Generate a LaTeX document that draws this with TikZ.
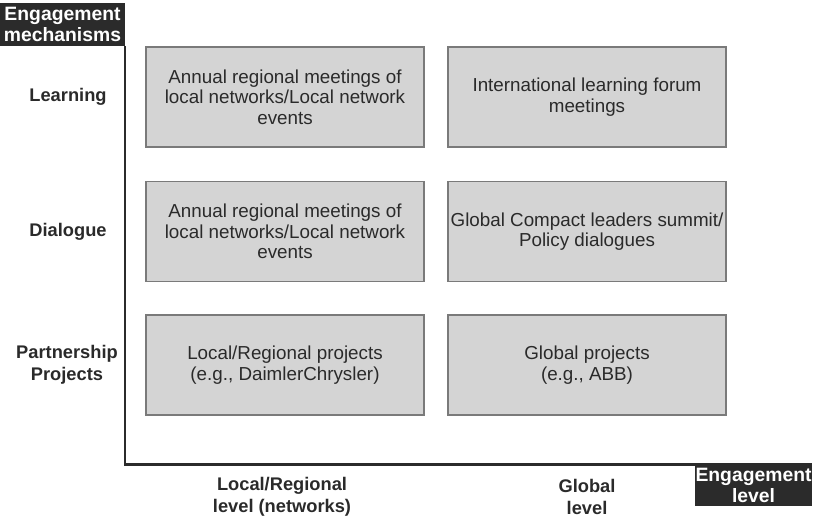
\documentclass[tikz,border=0pt]{standalone}
\usepackage{fontspec}
\setmainfont{Liberation Sans}
\usetikzlibrary{shapes}

\definecolor{tagdark}{HTML}{2B2B2B}
\definecolor{cellfill}{HTML}{D4D4D4}
\definecolor{celledge}{HTML}{7A7A7A}
\definecolor{inkgray}{HTML}{2A2A2A}

\tikzset{
	cell/.style={rectangle, draw=celledge, fill=cellfill, thick, inner xsep=1pt, minimum width=5.56cm, minimum height=2cm, align=center, text=inkgray, font=\fontsize{10.7}{11.6}\selectfont},
	tag/.style={rectangle, fill=tagdark, text=white, align=center, inner sep=0pt, font=\fontsize{11}{12}\selectfont\bfseries},
	rowlabel/.style={align=center, text=inkgray, font=\fontsize{10.4}{12.5}\selectfont\bfseries}
}

\begin{document}
\begin{tikzpicture}
		\useasboundingbox (0, 0) rectangle (16.38, -10.38);
		% axes
		\node(YTAG) at (1.25, -0.49)[tag, minimum width=2.5cm, minimum height=0.86cm]{Engagement\\mechanisms};
		\node(XTAG) at (15.07, -9.70)[tag, minimum width=2.34cm, minimum height=0.84cm]{Engagement\\level};
		\coordinate(O) at (2.5, -9.28);
		\draw[line width=1.7pt, color=tagdark] (YTAG.south -| O)--(O)--(16.24, -9.28);
		% rows
		\node(R1) at (1.36, -1.94)[rowlabel]{Learning};
		\node(R2) at (1.36, -4.63)[rowlabel]{Dialogue};
		\node(R3) at (1.34, -7.30)[rowlabel]{Partnership\\Projects};
		% columns
		\node(C1) at (5.64, -9.93)[rowlabel]{Local/Regional\\level (networks)};
		\node(C2) at (11.74, -9.93)[rowlabel]{Global\\level};
		% cells
		\node(L1) at (5.7, -1.94)[cell]{Annual regional meetings of\\local networks/Local network\\events};
		\node(G1) at (11.74, -1.94)[cell]{International learning forum\\meetings};
		\node(L2) at (5.7, -4.63)[cell]{Annual regional meetings of\\local networks/Local network\\events};
		\node(G2) at (11.74, -4.63)[cell]{Global Compact leaders summit/\\Policy dialogues};
		\node(L3) at (5.7, -7.30)[cell]{Local/Regional projects\\(e.g., DaimlerChrysler)};
		\node(G3) at (11.74, -7.30)[cell]{Global projects\\(e.g., ABB)};
\end{tikzpicture}
\end{document}
